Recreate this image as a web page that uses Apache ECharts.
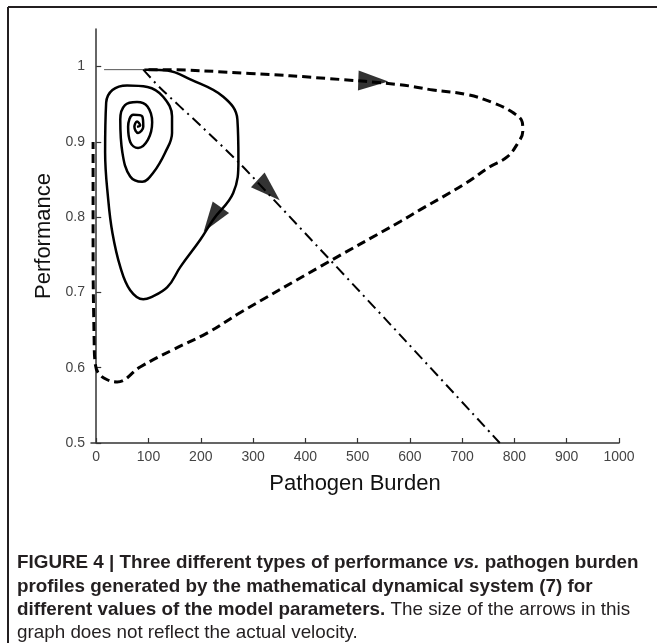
<!DOCTYPE html>
<html>
<head>
<meta charset="utf-8">
<script src="https://cdn.jsdelivr.net/npm/echarts@6/dist/echarts.min.js"></script>
<style>
  html, body { margin: 0; padding: 0; background: #fff; }
  #main { width: 657px; height: 643px; }
</style>
</head>
<body>
<div id="main"></div>
<script>
// x ticks / y ticks
var xTicks = [0, 100, 200, 300, 400, 500, 600, 700, 800, 900, 1000];
var yTicks = [0.5, 0.6, 0.7, 0.8, 0.9, 1];

// short thin segment at the start, shared by the three runs
var startBurden = [15, 92];
var startPerf = [0.996, 0.996];

// solid: damped spiral
var solidBurden = [92, 103, 136, 180, 243, 270, 272, 262, 224, 199, 161, 136, 103, 90, 65, 46, 31, 23, 17, 19, 31, 59, 98, 128, 145, 145, 132, 109, 88, 65, 50, 46, 55, 78, 98, 107, 99, 80, 65, 61, 71, 88, 90, 80, 73, 78, 84, 78];
var solidPerf = [0.996, 0.996, 0.995, 0.983, 0.960, 0.930, 0.876, 0.832, 0.797, 0.770, 0.734, 0.707, 0.693, 0.691, 0.703, 0.734, 0.779, 0.823, 0.886, 0.952, 0.969, 0.975, 0.973, 0.960, 0.934, 0.912, 0.886, 0.859, 0.847, 0.854, 0.886, 0.930, 0.949, 0.953, 0.947, 0.926, 0.903, 0.892, 0.900, 0.920, 0.936, 0.934, 0.920, 0.912, 0.920, 0.927, 0.922, 0.920];

// dashed: large loop, recovery along the axis
var dashBurden = [100, 113, 294, 447, 581, 644, 709, 759, 797, 815, 816, 807, 786, 753, 709, 663, 620, 581, 430, 275, 212, 147, 84, 40, 21, 4, -2, -4, -6, -6];
var dashPerf = [0.996, 0.996, 0.991, 0.984, 0.976, 0.969, 0.963, 0.952, 0.939, 0.926, 0.914, 0.899, 0.880, 0.867, 0.846, 0.827, 0.810, 0.794, 0.735, 0.673, 0.646, 0.624, 0.601, 0.581, 0.584, 0.593, 0.606, 0.637, 0.757, 0.900];

// dash-dot: monotone decline
var dotBurden = [90, 122, 199, 275, 352, 562, 772];
var dotPerf = [0.996, 0.972, 0.922, 0.871, 0.814, 0.658, 0.5];

// arrow heads: position and heading (deg)
var arrowBurden = [530, 222, 330];
var arrowPerf = [0.981, 0.797, 0.836];
var arrowAngle = [-92, 145, -133];

function zip(a, b) { return a.map(function (v, i) { return [v, b[i]]; }); }

var chart = echarts.init(document.getElementById('main'));

var axisFont = "'Liberation Sans', Arial, sans-serif";
var capFamily = "'Liberation Sans Narrow', 'Arial Narrow', 'Liberation Sans', Arial, sans-serif";
var line1 = 'FIGURE 4 | Three different types of performance vs. pathogen burden';
var ctx = document.createElement('canvas').getContext('2d');
ctx.font = 'bold 20px ' + capFamily;
var capSize = Math.max(14, Math.min(21, 20 * 622 / ctx.measureText(line1).width));

var capRich = {
  b: { fontFamily: capFamily, fontSize: capSize, fontWeight: 'bold', fill: '#231f20' },
  bi: { fontFamily: capFamily, fontSize: capSize, fontWeight: 'bold', fontStyle: 'italic', fill: '#231f20' },
  r: { fontFamily: capFamily, fontSize: capSize, fill: '#231f20' }
};
var capLines = [
  '{b|FIGURE 4 | Three different types of performance }{bi|vs.}{b| pathogen burden}',
  '{b|profiles generated by the mathematical dynamical system (7) for}',
  '{b|different values of the model parameters.}{r| The size of the arrows in this}',
  '{r|graph does not reflect the actual velocity.}'
];
var capY = [565, 589, 612, 635];

var graphics = [
  { type: 'line', shape: { x1: 8, y1: 7, x2: 657, y2: 7 }, style: { stroke: '#231f20', lineWidth: 2 } },
  { type: 'line', shape: { x1: 8, y1: 7, x2: 8, y2: 643 }, style: { stroke: '#231f20', lineWidth: 2 } }
];
capLines.forEach(function (t, i) {
  graphics.push({
    type: 'text', left: 17, top: capY[i] - capSize * 0.6,
    style: { text: t, rich: capRich, font: 'bold ' + capSize + 'px ' + capFamily }
  });
});

var option = {
  animation: false,
  backgroundColor: '#fff',
  grid: { left: 91, right: 38, top: 29, bottom: 200 },
  xAxis: {
    type: 'value', min: -10, max: 1000,
    name: 'Pathogen Burden', nameLocation: 'middle', nameGap: 30,
    nameTextStyle: { fontFamily: axisFont, fontSize: 22, color: '#111' },
    axisLine: { show: true, lineStyle: { color: '#333', width: 1.5 } },
    axisTick: { show: true, inside: true, length: 5, customValues: xTicks, lineStyle: { color: '#333', width: 1.2 } },
    axisLabel: {
      customValues: xTicks, margin: 7, fontFamily: axisFont, fontSize: 14, color: '#444',
      formatter: function (v) { return String(v); }
    },
    splitLine: { show: false }
  },
  yAxis: {
    type: 'value', min: 0.5, max: 1.05,
    name: 'Performance', nameLocation: 'middle', nameGap: 36, nameRotate: 90,
    nameTextStyle: { fontFamily: axisFont, fontSize: 22, color: '#111' },
    axisLine: { show: true, lineStyle: { color: '#333', width: 1.5 } },
    axisTick: { show: true, inside: true, length: 5, customValues: yTicks, lineStyle: { color: '#333', width: 1.2 } },
    axisLabel: {
      customValues: yTicks, margin: 6, fontFamily: axisFont, fontSize: 14, color: '#444',
      formatter: function (v) { return String(+v.toFixed(1)); }
    },
    splitLine: { show: false }
  },
  graphic: graphics,
  series: [
    {
      type: 'line', data: zip(startBurden, startPerf), symbol: 'none',
      lineStyle: { color: '#555', width: 1 }
    },
    {
      type: 'line', data: zip(solidBurden, solidPerf), symbol: 'none', smooth: 0.4,
      lineStyle: { color: '#000', width: 2.5 }
    },
    {
      type: 'line', data: zip(dashBurden, dashPerf), symbol: 'none', smooth: 0.4,
      lineStyle: { color: '#000', width: 3, type: [9, 5] }
    },
    {
      type: 'line', data: zip(dotBurden, dotPerf), symbol: 'none', smooth: 0.3,
      lineStyle: { color: '#000', width: 2, type: [11, 5, 2, 5] }
    },
    {
      type: 'scatter', symbol: 'triangle', symbolSize: [20, 30],
      itemStyle: { color: '#000' },
      data: arrowBurden.map(function (x, i) {
        return { value: [x, arrowPerf[i]], symbolRotate: arrowAngle[i] };
      })
    }
  ]
};

chart.setOption(option);
</script>
</body>
</html>
